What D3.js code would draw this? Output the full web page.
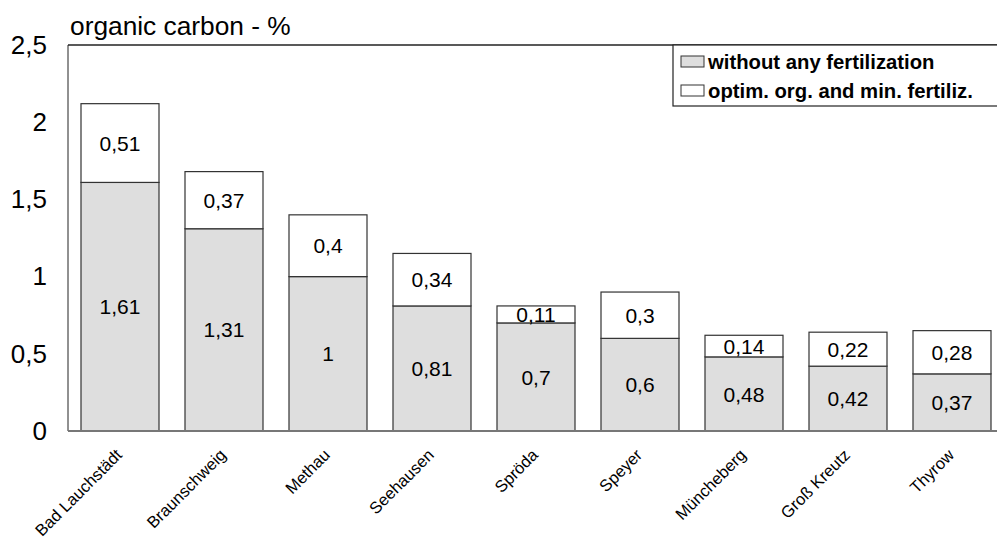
<!DOCTYPE html>
<html><head><meta charset="utf-8">
<script src="https://cdn.jsdelivr.net/npm/d3@7"></script>
<style>body{margin:0;background:#fff}svg{display:block}text{font-family:"Liberation Sans",Arial,sans-serif}</style>
</head><body><svg id="c" width="997" height="543"></svg>
<script>
const categories = ["Bad Lauchstädt","Braunschweig","Methau","Seehausen","Spröda","Speyer","Müncheberg","Groß Kreutz","Thyrow"];
const withoutFert = [1.61,1.31,1,0.81,0.7,0.6,0.48,0.42,0.37];
const optimFert = [0.51,0.37,0.4,0.34,0.11,0.3,0.14,0.22,0.28];
const yTicks = [0,0.5,1,1.5,2,2.5];
const seriesNames = ["without any fertilization","optim. org. and min. fertiliz."];
const seriesColors = ["#dedede","#ffffff"];

const svg = d3.select("#c");
const L = 68, T = 45, B = 431, R = 1004;
const x = d3.scaleBand().domain(categories).range([L, R]).paddingInner(0.25).paddingOuter(0.125);
const y = d3.scaleLinear().domain([0, 2.5]).range([B, T]);
const fmt = v => String(v).replace(".", ",");

// frame
svg.append("line").attr("x1",L).attr("x2",997).attr("y1",T).attr("y2",T).attr("stroke","#222").attr("stroke-width",1.5);
svg.append("line").attr("x1",L).attr("x2",L).attr("y1",T).attr("y2",B).attr("stroke","#222").attr("stroke-width",1);

// y axis labels
const yAxis = d3.axisLeft(y).tickValues(yTicks).tickSize(0).tickPadding(21).tickFormat(fmt);
const ya = svg.append("g").attr("transform",`translate(${L},0)`).call(yAxis);
ya.select(".domain").remove();
ya.selectAll("text").attr("font-size",26).attr("fill","#000").style("font-family",'"Liberation Sans",Arial,sans-serif');

const stack = categories.map((c,i)=>({c, a: withoutFert[i], b: optimFert[i]}));
const g = svg.append("g");
stack.forEach(d=>{
  g.append("rect").attr("x",x(d.c)).attr("width",x.bandwidth()).attr("y",y(d.a)).attr("height",y(0)-y(d.a))
    .attr("fill",seriesColors[0]).attr("stroke","#333").attr("stroke-width",1.2);
  g.append("rect").attr("x",x(d.c)).attr("width",x.bandwidth()).attr("y",y(d.a+d.b)).attr("height",y(d.a)-y(d.a+d.b))
    .attr("fill",seriesColors[1]).attr("stroke","#333").attr("stroke-width",1.2);
  g.append("text").attr("x",x(d.c)+x.bandwidth()/2).attr("y",(y(0)+y(d.a))/2).attr("dy","0.36em")
    .attr("text-anchor","middle").attr("font-size",21).text(fmt(d.a));
  g.append("text").attr("x",x(d.c)+x.bandwidth()/2).attr("y",(y(d.a)+y(d.a+d.b))/2).attr("dy","0.36em")
    .attr("text-anchor","middle").attr("font-size",21).text(fmt(d.b));
});

// x axis
svg.append("line").attr("x1",L).attr("x2",997).attr("y1",B).attr("y2",B).attr("stroke","#777").attr("stroke-width",2);
categories.forEach(c=>{
  const cx = x(c)+x.bandwidth()/2 - 1;
  svg.append("text").attr("transform",`translate(${cx},${B+21}) rotate(-45)`)
    .attr("text-anchor","end").attr("dy","0.35em").attr("font-size",16.5).text(c);
});

// title
svg.append("text").attr("x",70).attr("y",35).attr("font-size",26.3).text("organic carbon - %");

// legend
svg.append("rect").attr("x",673).attr("y",T).attr("width",340).attr("height",61).attr("fill","#fff").attr("stroke","#222").attr("stroke-width",1.2);
seriesNames.forEach((n,i)=>{
  const yy = 56 + i*29;
  svg.append("rect").attr("x",681).attr("y",yy).attr("width",23).attr("height",11).attr("fill",seriesColors[i]).attr("stroke","#333").attr("stroke-width",1);
  svg.append("text").attr("x",708).attr("y",yy+12.5).attr("font-size",20.3).attr("font-weight","bold").text(n);
});
</script></body></html>
